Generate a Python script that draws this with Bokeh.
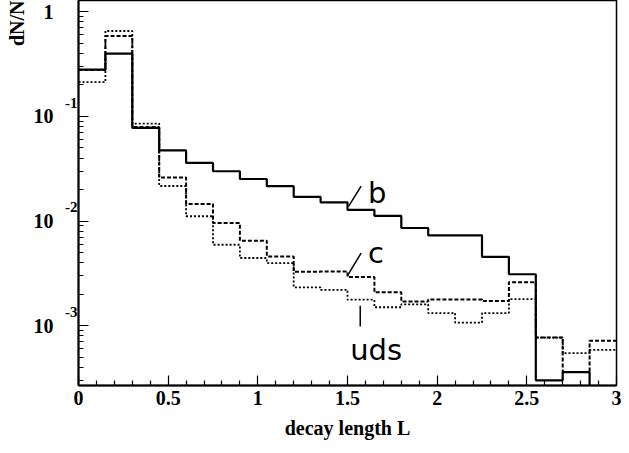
from bokeh.plotting import figure
from bokeh.models import Range1d, FixedTicker, Label, LogAxis, Title
from bokeh.embed import file_html
from bokeh.resources import INLINE

# ---------------- data ----------------
bin_edges = [0.0, 0.15, 0.3, 0.45, 0.6, 0.75, 0.9, 1.05, 1.2, 1.35, 1.5,
             1.65, 1.8, 1.95, 2.1, 2.25, 2.4, 2.55, 2.7, 2.85, 3.0]

b_vals = [0.28, 0.397, 0.0776, 0.0473, 0.0359, 0.0299, 0.0252, 0.0215, 0.0170, 0.0151,
          0.0128, 0.0112, 0.00857, 0.0073, 0.0073, 0.00455, 0.0031, 0.00030, 0.00036, 1e-6]

c_vals = [0.277, 0.585, 0.079, 0.0260, 0.01455, 0.00957, 0.00648, 0.00459, 0.00328, 0.0033,
          0.00291, 0.00208, 0.0017, 0.00178, 0.00178, 0.00172, 0.0026, 0.00077, 0.00036, 0.000716]

uds_vals = [0.212, 0.654, 0.0853, 0.0216, 0.0111, 0.00593, 0.00443, 0.00396, 0.00232, 0.0022,
            0.00177, 0.00150, 0.0016, 0.00132, 0.00107, 0.00132, 0.00179, 0.00077, 0.000546, 0.000587]

x_ticks = [0.0, 0.5, 1.0, 1.5, 2.0, 2.5, 3.0]
x_tick_labels = ["0", "0.5", "1", "1.5", "2", "2.5", "3"]
x_minor_ticks = [0.1, 0.2, 0.3, 0.4, 0.6, 0.7, 0.8, 0.9, 1.1, 1.2, 1.3, 1.4,
                 1.6, 1.7, 1.8, 1.9, 2.1, 2.2, 2.3, 2.4, 2.6, 2.7, 2.8, 2.9]

y_ticks = [0.001, 0.01, 0.1, 1.0]
y_tick_labels = ["10", "10", "10", "1"]
y_exp_ticks = [0.001, 0.01, 0.1]
y_exponents = ["-3", "-2", "-1"]

series_labels = ["b", "c", "uds"]
label_x = [1.615, 1.615, 1.515]
label_y = [0.0185, 0.00494, 0.000583]
pointer_x0 = [1.506, 1.500, 1.571]
pointer_y0 = [0.0138, 0.0030, 0.00155]
pointer_x1 = [1.576, 1.576, 1.571]
pointer_y1 = [0.0215, 0.00494, 0.00098]

x_title = "decay length L"
y_title = "dN/N"

# ---------------- figure ----------------
p = figure(width=621, height=445, y_axis_type="log",
           x_range=Range1d(0, 3), y_range=Range1d(2.68e-4, 1.28),
           output_backend="svg", toolbar_location=None,
           min_border_left=73, min_border_right=5,
           min_border_top=0, min_border_bottom=60)

p.background_fill_color = "white"
p.border_fill_color = "white"
p.xgrid.visible = False
p.ygrid.visible = False
p.outline_line_color = "black"
p.outline_line_width = 1.5
p.outline_line_alpha = 1.0

serif = "Liberation Serif"

minor_y = []
for e in range(-4, 1):
    for k in range(2, 10):
        minor_y.append(k * 10.0 ** e)

for ax in (p.xaxis[0], p.yaxis[0]):
    ax.axis_line_width = 2
    ax.axis_line_color = "black"
    ax.major_tick_in = 10
    ax.major_tick_out = 0
    ax.minor_tick_in = 5
    ax.minor_tick_out = 0
    ax.major_tick_line_width = 1.2
    ax.minor_tick_line_width = 1.2
    ax.major_tick_line_color = "black"
    ax.minor_tick_line_color = "black"
    ax.major_label_text_font = serif
    ax.major_label_text_font_style = "bold"
    ax.major_label_text_font_size = "20px"
    ax.major_label_text_color = "black"

# x axis
p.xaxis.ticker = FixedTicker(ticks=x_ticks, minor_ticks=x_minor_ticks)
p.xaxis.major_label_overrides = dict(zip(x_ticks, x_tick_labels))
p.xaxis.major_label_standoff = 5
p.xaxis.axis_label = x_title
p.xaxis.axis_label_text_font = serif
p.xaxis.axis_label_text_font_style = "bold"
p.xaxis.axis_label_text_font_size = "20px"
p.xaxis.axis_label_text_color = "black"
p.xaxis.axis_label_standoff = 9

# main y axis: line and ticks only
p.yaxis.ticker = FixedTicker(ticks=y_ticks, minor_ticks=minor_y)
p.yaxis.major_label_overrides = {t: "" for t in y_ticks}
p.yaxis.major_label_standoff = 0

# exponent axis (labels raised above each decade)
exp_axis = LogAxis(ticker=FixedTicker(ticks=[t * 1.35 for t in y_exp_ticks]),
                   major_label_overrides={t * 1.35: e for t, e in zip(y_exp_ticks, y_exponents)},
                   axis_line_color=None, major_tick_line_color=None,
                   minor_tick_line_color=None, major_tick_in=0, major_tick_out=0,
                   minor_tick_in=0, minor_tick_out=0,
                   major_label_standoff=1, major_label_text_font=serif,
                   major_label_text_font_style="bold", major_label_text_font_size="15px",
                   major_label_text_color="black")
p.add_layout(exp_axis, "left")

# mantissa axis ("10", "1")
man_axis = LogAxis(ticker=FixedTicker(ticks=y_ticks),
                   major_label_overrides=dict(zip(y_ticks, y_tick_labels)),
                   axis_line_color=None, major_tick_line_color=None,
                   minor_tick_line_color=None, major_tick_in=0, major_tick_out=0,
                   minor_tick_in=0, minor_tick_out=0,
                   major_label_standoff=9, major_label_text_font=serif,
                   major_label_text_font_style="bold", major_label_text_font_size="20px",
                   major_label_text_color="black")
p.add_layout(man_axis, "left")

p.add_layout(Title(text=y_title, align="right", text_font=serif,
                   text_font_style="bold", text_font_size="20px",
                   text_color="black", standoff=6), "left")

# histograms (dotted, dashed, then solid on top)
p.step(x=bin_edges, y=uds_vals + [uds_vals[-1]], mode="after",
       line_color="black", line_width=1.8, line_dash="2 2")
p.step(x=bin_edges, y=c_vals + [c_vals[-1]], mode="after",
       line_color="black", line_width=2, line_dash="4 2")
p.step(x=bin_edges, y=b_vals + [b_vals[-1]], mode="after",
       line_color="black", line_width=2.2)

# pointers
p.segment(x0=pointer_x0, y0=pointer_y0, x1=pointer_x1, y1=pointer_y1,
          line_color="black", line_width=1.5)

for txt, lx, ly in zip(series_labels, label_x, label_y):
    p.add_layout(Label(x=lx, y=ly, text=txt, text_font="DejaVu Sans",
                       text_font_size="29px", text_color="black",
                       text_align="left", text_baseline="alphabetic"))

open("out.html", "w").write(file_html(p, INLINE))
